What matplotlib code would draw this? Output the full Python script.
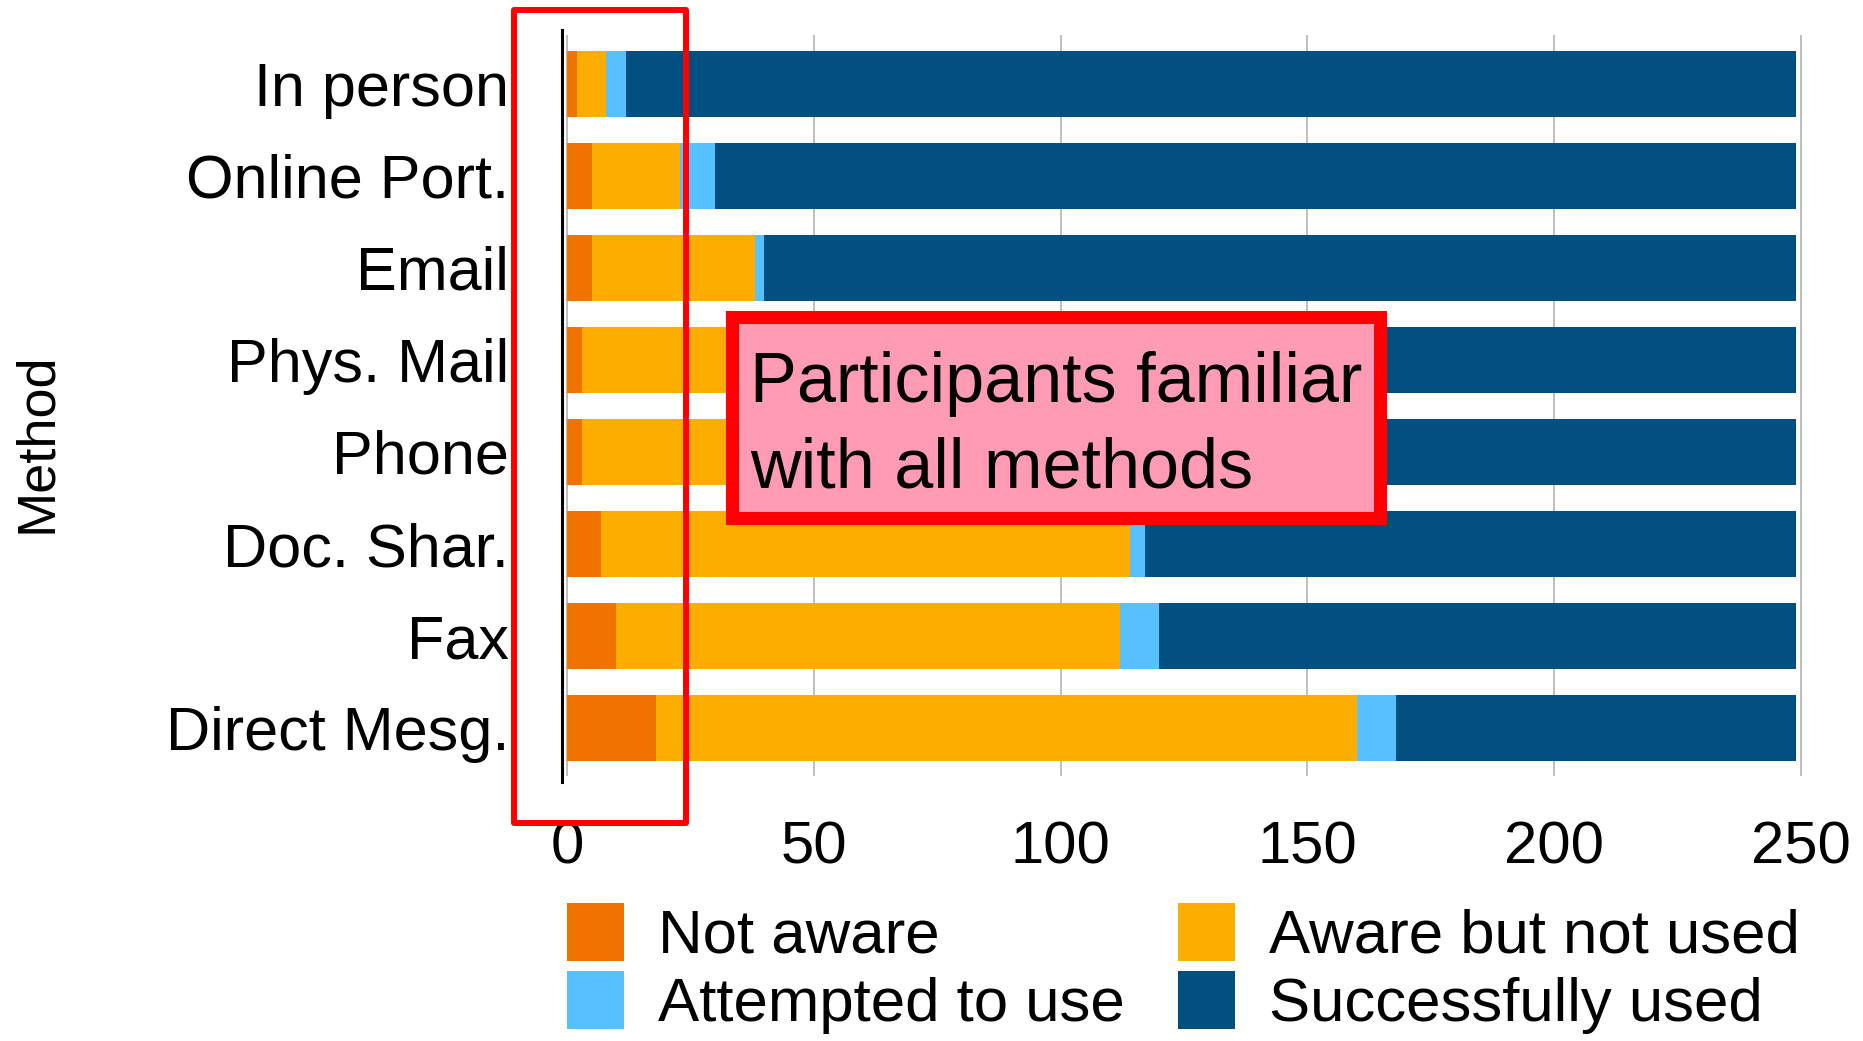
import matplotlib
matplotlib.use("Agg")
import numpy as np
import matplotlib.pyplot as plt
from matplotlib.patches import Rectangle

methods = ["In person", "Online Port.", "Email", "Phys. Mail", "Phone",
           "Doc. Shar.", "Fax", "Direct Mesg."]
not_aware = [2, 5, 5, 3, 3, 7, 10, 18]
aware_not_used = [6, 18, 33, 60, 70, 107, 102, 142]
attempted = [4, 7, 2, 4, 5, 3, 8, 8]
success = [237, 219, 209, 182, 171, 132, 129, 81]

series = [
    ("Not aware", not_aware, "#F07300"),
    ("Aware but not used", aware_not_used, "#FDAD00"),
    ("Attempted to use", attempted, "#57C0FF"),
    ("Successfully used", success, "#01507F"),
]

plt.rcParams["font.family"] = ["Liberation Sans", "DejaVu Sans"]

W, H = 1863, 1041
fig = plt.figure(figsize=(W / 100, H / 100), dpi=100)


def px(x, y):
    # pixel position (top-left origin) -> inches for dpi_scale_trans
    return x / 100, (H - y) / 100


ax = fig.add_axes([562 / W, 1 - 776 / H, 1249 / W, 741 / H])

y = np.arange(len(methods))
left = np.zeros(len(methods))
handles = {}
for name, vals, col in series:
    b = ax.barh(y, vals, left=left, height=0.72, color=col, label=name, zorder=2)
    handles[name] = b
    left += np.array(vals)

ax.set_xlim(-1, 252)
ax.set_ylim(7.52, -0.53)
ax.set_yticks(y)
ax.set_yticklabels(methods, fontsize=44)
ax.set_xticks([0, 50, 100, 150, 200, 250])
ax.set_xticklabels(["0", "50", "100", "150", "200", "250"], fontsize=43)
ax.tick_params(axis="y", length=0, pad=38)
ax.tick_params(axis="x", length=0, pad=32)
ax.xaxis.grid(True, color="#BDBDBD", linewidth=1.4, zorder=0)
ax.set_axisbelow(True)
for s in ["top", "right", "bottom", "left"]:
    ax.spines[s].set_visible(False)
# vertical axis line, a bit longer than the grid
ax.plot([-1, -1], [-0.58, 7.58], color="black", linewidth=2.2,
        clip_on=False, zorder=3)

fig.text(37 / W, 1 - 443 / H, "Method", rotation=90, fontsize=39,
         ha="center", va="center")

order = ["Not aware", "Attempted to use", "Aware but not used", "Successfully used"]
fig.legend([handles[k] for k in order], order, ncol=2, frameon=False,
           loc="upper left", bbox_to_anchor=(567 / W, 1 - 903 / H),
           fontsize=44.5, handlelength=0.93, handleheight=1.06,
           handletextpad=0.55, columnspacing=0.85, labelspacing=0.08,
           borderpad=0, borderaxespad=0)

# red outline around the "Not aware" region
box1 = Rectangle(px(514, 823), 172 / 100, 813 / 100, fill=False,
                 edgecolor="#FF0000", linewidth=4.3, joinstyle="round",
                 transform=fig.dpi_scale_trans, zorder=10)
fig.add_artist(box1)

# annotation box
box2 = Rectangle(px(731.5, 517.5), 648 / 100, 201 / 100, facecolor="#FF9BB4",
                 edgecolor="#FF0000", linewidth=9.4,
                 transform=fig.dpi_scale_trans, zorder=10)
fig.add_artist(box2)
for txt, by in [("Participants familiar", 402), ("with all methods", 487)]:
    fig.text(*px(750, by), txt, fontsize=50.5, ha="left", va="baseline",
             transform=fig.dpi_scale_trans, zorder=11)

fig.savefig("out.png", dpi=100)
